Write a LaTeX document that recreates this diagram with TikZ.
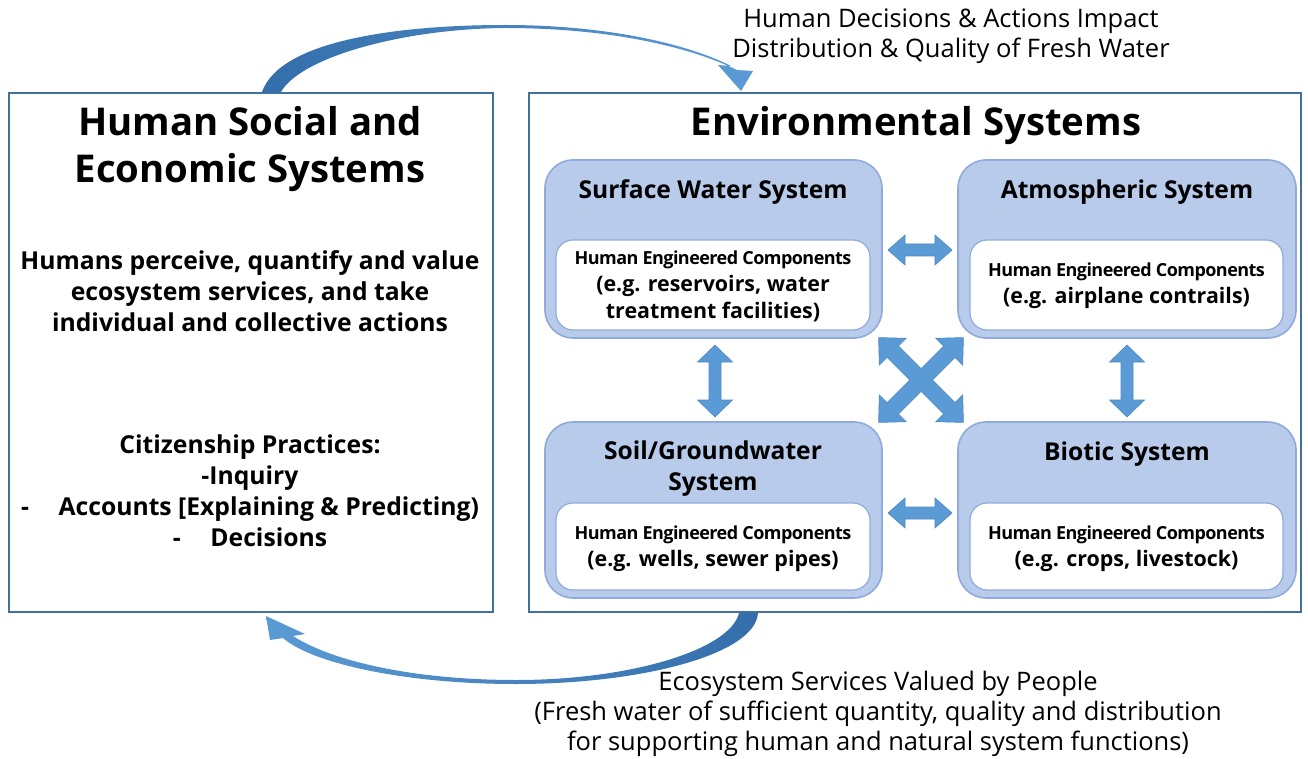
\documentclass[tikz,border=0pt]{standalone}
\usepackage{fontspec}
\setmainfont{Open Sans}
\usetikzlibrary{calc}
\definecolor{frameblue}{RGB}{65,113,156}
\definecolor{subfill}{RGB}{184,203,235}
\definecolor{subdraw}{RGB}{143,170,220}
\definecolor{arrowfill}{RGB}{91,155,213}
\definecolor{arrowedge}{RGB}{80,135,195}
\definecolor{curvedark}{RGB}{52,110,170}
\definecolor{curvelight}{RGB}{140,185,230}
\newcommand\fsz[2]{\fontsize{#1}{#2}\selectfont}
\newcommand\hdarr[5]{% x, y, rotation, half-length, head half-width
  \filldraw[arrowshape,shift={(#1,#2)},rotate=#3]
    (-#4,0) -- (-#4+17,-#5) -- (-#4+17,-6) -- (#4-17,-6) -- (#4-17,-#5) -- (#4,0)
    -- (#4-17,#5) -- (#4-17,6) -- (-#4+17,6) -- (-#4+17,#5) -- cycle;}
\tikzset{
  bigbox/.style={draw=frameblue,line width=1.8pt,fill=white},
  subbox/.style={draw=subdraw,line width=1.6pt,fill=subfill,rounded corners=28pt},
  innerbox/.style={draw=subdraw,line width=1.2pt,fill=white,rounded corners=17pt},
  arrowshape/.style={fill=arrowfill,draw=arrowedge,line width=0.6pt},
  bigtitle/.style={font=\bfseries\fsz{38.3}{47},align=center},
  bodytext/.style={font=\bfseries\fsz{24.7}{31},align=center},
  subtitle/.style={font=\bfseries\fsz{24.6}{31},align=center},
  innertext/.style={font=\bfseries\fsz{21.4}{27},align=center},
  labeltext/.style={font=\fsz{25.5}{30},align=center},
}
\newcommand\hec{{\addfontfeature{LetterSpace=-3}\fsz{18}{27}Human Engineered Components}}
\begin{document}
\begin{tikzpicture}[x=1pt,y=-1pt]
\useasboundingbox (0,0) rectangle (1308,759);
% main frames
\node[bigbox,minimum width=484pt,minimum height=519pt,anchor=north west] (hs) at (8,92) {};
\node[bigbox,minimum width=772pt,minimum height=519pt,anchor=north west] (es) at (528,92) {};
% left texts
\node[bigtitle] (hstitle) at (250,149.5) {Human Social and\\Economic Systems};
\node[bodytext] (hsbody) at (250,291) {Humans perceive, quantify and value\\ecosystem services, and take\\individual and collective actions};
\node[bodytext] (hscit) at (250,490.5) {Citizenship Practices:\\-Inquiry\\-\hspace{1.2em}Accounts [Explaining \& Predicting)\\-\hspace{1.2em}Decisions};
% right title
\node[bigtitle] (estitle) at (916,126) {Environmental Systems};
% sub boxes
\node[subbox,minimum width=337pt,minimum height=178pt] (sw) at (713.5,249) {};
\node[subbox,minimum width=338pt,minimum height=178pt] (at) at (1127,249) {};
\node[subbox,minimum width=337pt,minimum height=176pt] (gw) at (713.5,510) {};
\node[subbox,minimum width=338pt,minimum height=176pt] (bi) at (1127,510) {};
\node[subtitle] (swt) at (713,192) {Surface Water System};
\node[subtitle] (att) at (1127,192) {Atmospheric System};
\node[subtitle] (gwt) at (713,469) {Soil/Groundwater\\System};
\node[subtitle] (bit) at (1127,454) {Biotic System};
\node[innerbox,minimum width=314pt,minimum height=90pt] (swi) at (713,285) {};
\node[innerbox,minimum width=313pt,minimum height=90pt] (ati) at (1126.5,285) {};
\node[innerbox,minimum width=314pt,minimum height=87pt] (gwi) at (713,546.5) {};
\node[innerbox,minimum width=313pt,minimum height=87pt] (bii) at (1126.5,546.5) {};
\node[innertext] (swtx) at (713,286) {\hec\\(e.g. reservoirs, water\\treatment facilities)};
\node[innertext] (attx) at (1126.5,286) {\hec\\(e.g. airplane contrails)};
\node[innertext] (gwtx) at (713,549) {\hec\\(e.g. wells, sewer pipes)};
\node[innertext] (bitx) at (1126.5,549) {\hec\\(e.g. crops, livestock)};
% block double arrows between systems
\hdarr{920}{250}{0}{32}{15}
\hdarr{920}{513}{0}{32}{15}
\hdarr{715}{381}{90}{36}{17.5}
\hdarr{1127}{381}{90}{36}{17.5}
% cross arrow
\filldraw[arrowshape,shift={(921,380)},rotate=45]
  (8,8) -- (40,8) -- (40,19) -- (60,0) -- (40,-19) -- (40,-8) -- (8,-8)
  -- (8,-40) -- (19,-40) -- (0,-60) -- (-19,-40) -- (-8,-40) -- (-8,-8)
  -- (-40,-8) -- (-40,-19) -- (-60,0) -- (-40,19) -- (-40,8) -- (-8,8)
  -- (-8,40) -- (-19,40) -- (0,60) -- (19,40) -- (8,40) -- cycle;
% curved arrows
\shade[left color=curvedark,middle color=curvelight,right color=arrowfill]
  (262,92) .. controls (280,40) and (400,25) .. (505,25)
  .. controls (610,25) and (690,45) .. (731,66)
  -- (718,65) -- (741,91) -- (753,71) -- (737,70)
  .. controls (690,47) and (610,28) .. (505,28)
  .. controls (400,29) and (300,58) .. (281,92) -- cycle;
\shade[left color=arrowfill,middle color=curvelight,right color=curvedark]
  (758,613) .. controls (755,655) and (640,684) .. (516,684)
  .. controls (400,684) and (310,662) .. (283,638)
  -- (270,640) -- (266,616) -- (305,634) -- (293,636)
  .. controls (330,660) and (410,680) .. (516,680)
  .. controls (630,680) and (730,650) .. (739,613) -- cycle;
% labels
\node[labeltext] (toplab) at (951,36.5) {Human Decisions \& Actions Impact\\Distribution \& Quality of Fresh Water};
\node[labeltext] (botlab) at (878,714) {Ecosystem Services Valued by People\\(Fresh water of sufficient quantity, quality and distribution\\for supporting human and natural system functions)};
\end{tikzpicture}
\end{document}
